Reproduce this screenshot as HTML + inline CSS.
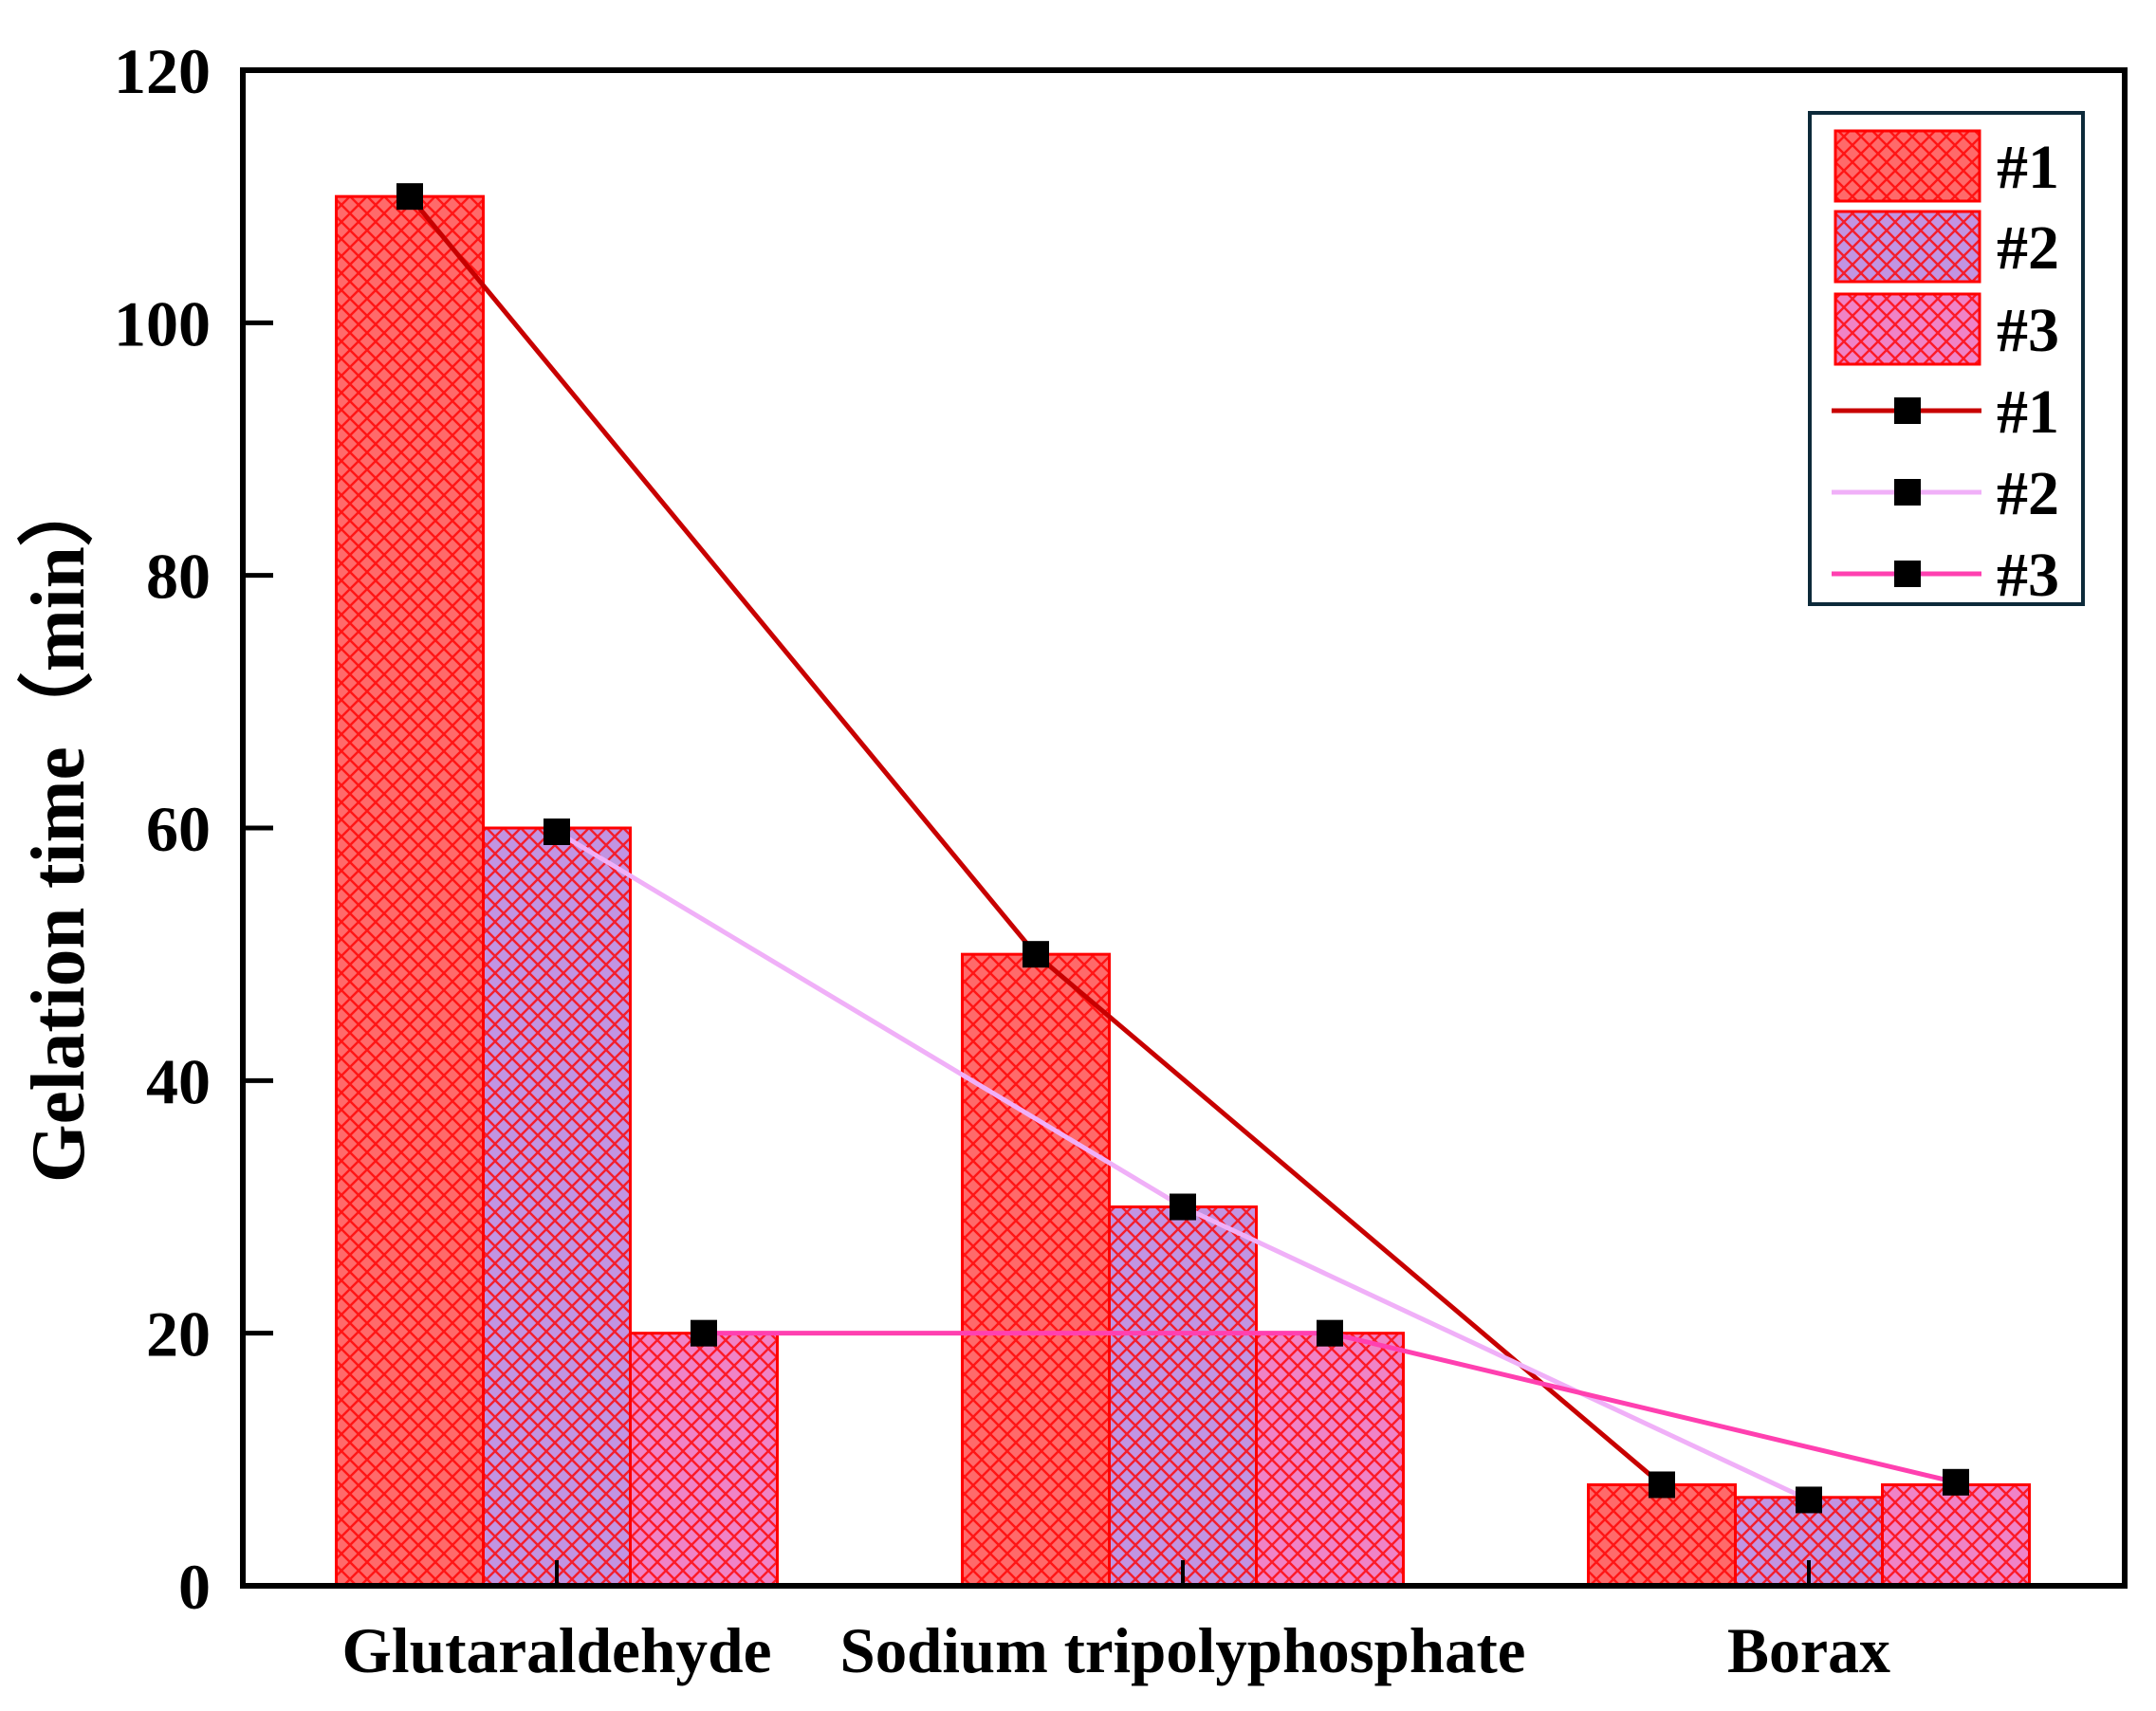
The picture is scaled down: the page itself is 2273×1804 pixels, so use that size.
<!DOCTYPE html>
<html><head><meta charset="utf-8"><style>html,body{margin:0;padding:0;background:#fff}svg{display:block}</style></head>
<body>
<svg id="chart" width="2273" height="1804" viewBox="0 0 2273 1804" xmlns="http://www.w3.org/2000/svg" font-family="'Liberation Serif', serif" font-weight="bold">
<defs>
<pattern id="hatch" width="18" height="18" patternUnits="userSpaceOnUse">
<path d="M0 0 L18 18 M18 0 L0 18" stroke="#ff0000" stroke-width="2.4" fill="none" opacity="0.8"/>
</pattern>
</defs>
<g id="bars"></g>
<g id="lines"></g>
<g id="axes"></g>
<text transform="translate(88,872) rotate(-90)" text-anchor="middle" font-size="80" textLength="750" lengthAdjust="spacingAndGlyphs">Gelation time（min）</text>
<g>
<rect x="1908" y="119" width="288" height="518" fill="#fff" stroke="#0d2a3a" stroke-width="4"/>
</g>
<g id="legend-items"></g>
</svg>
<script>
const categories = ["Glutaraldehyde", "Sodium tripolyphosphate", "Borax"];
const seriesNames = ["#1", "#2", "#3"];
const barS1 = [110, 50, 8];
const barS2 = [60, 30, 7];
const barS3 = [20, 20, 8];
const lineS1 = [110, 50, 8];
const lineS2 = [59.7, 30, 6.8];
const lineS3 = [20, 20, 8.2];
const yTicks = [0, 20, 40, 60, 80, 100, 120];

const NS = "http://www.w3.org/2000/svg";
const X0 = 256, X1 = 2240, Y0 = 1672, Y1 = 74;
const yMax = 120;
function y(v){ return Y0 - (v / yMax) * (Y0 - Y1); }
function xc(i){ return 587 + i * 660; }
const BW = 155;
const fills = ["#ff6a6a", "#c294e2", "#f083c6"];
const lineColors = ["#c80000", "#f0b0f8", "#ff40b0"];
function mk(tag, attrs, parent){ const e = document.createElementNS(NS, tag); for (const k in attrs) e.setAttribute(k, attrs[k]); parent.appendChild(e); return e; }

const bars = document.getElementById('bars');
const barData = [barS1, barS2, barS3];
barData.forEach((s, si) => {
  s.forEach((v, ci) => {
    const x = xc(ci) + (si - 1) * BW - BW / 2;
    const g = mk('g', {}, bars);
    
    
    mk('rect', {x: x, y: y(v), width: BW, height: Y0 - y(v), fill: fills[si]}, g);
    mk('rect', {x: x, y: y(v), width: BW, height: Y0 - y(v), fill: 'url(#hatch)', stroke: '#ff0000', 'stroke-width': 3}, g);
  });
});

const lines = document.getElementById('lines');
const lineData = [lineS1, lineS2, lineS3];
lineData.forEach((s, si) => {
  const pl = mk('polyline', {points: s.map((v, i) => xc(i) + (si - 1) * BW + ',' + y(v)).join(' '), fill: 'none', stroke: lineColors[si], 'stroke-width': 5}, lines);
  
  
});
lineData.forEach((s, si) => {
  s.forEach((v, i) => {
    const m = mk('rect', {x: xc(i) + (si - 1) * BW - 14, y: y(v) - 14, width: 28, height: 28, fill: '#000'}, lines);
    
    
  });
});

const axes = document.getElementById('axes');
const frame = mk('rect', {x: X0, y: Y1, width: X1 - X0, height: Y0 - Y1, fill: 'none', stroke: '#000', 'stroke-width': 6}, axes);


yTicks.forEach(t => {
  mk('line', {x1: X0, x2: X0 + 32, y1: y(t), y2: y(t), stroke: '#000', 'stroke-width': 5}, axes);
  const tx = mk('text', {x: 222, y: y(t) + 24, 'text-anchor': 'end', 'font-size': 68}, axes);
  tx.textContent = t;
  
  
});
const labelW = [453, 723, 172];
categories.forEach((c, i) => {
  mk('line', {x1: xc(i), x2: xc(i), y1: Y0, y2: Y0 - 27, stroke: '#000', 'stroke-width': 4}, axes);
  const tx = mk('text', {x: xc(i), y: 1763, 'text-anchor': 'middle', 'font-size': 68, textLength: labelW[i], lengthAdjust: 'spacingAndGlyphs'}, axes);
  tx.textContent = c;
  
  
});

const li = document.getElementById('legend-items');
const swY = [138, 223, 310];
seriesNames.forEach((n, i) => {
  const g = mk('g', {}, li);
  
  
  mk('rect', {x: 1935, y: swY[i], width: 152, height: 74, fill: fills[i]}, g);
  mk('rect', {x: 1935, y: swY[i], width: 152, height: 74, fill: 'url(#hatch)', stroke: '#ff0000', 'stroke-width': 3}, g);
  const t = mk('text', {x: 2105, y: swY[i] + 60, 'font-size': 66}, g);
  t.textContent = n;
});
const lnY = [433, 519, 605];
seriesNames.forEach((n, i) => {
  const g = mk('g', {}, li);
  
  
  mk('line', {x1: 1931, x2: 2089, y1: lnY[i], y2: lnY[i], stroke: lineColors[i], 'stroke-width': 5}, g);
  mk('rect', {x: 1997, y: lnY[i] - 14, width: 28, height: 28, fill: '#000'}, g);
  const t = mk('text', {x: 2105, y: lnY[i] + 23, 'font-size': 66}, g);
  t.textContent = n;
});
</script>
</body></html>
